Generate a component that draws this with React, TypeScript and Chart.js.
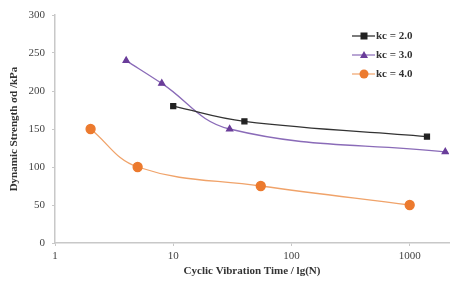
import React, { useEffect, useRef } from "react";
import { Chart, registerables } from "chart.js";

Chart.register(...registerables);

const seriesLabels = ["kc = 2.0", "kc = 3.0", "kc = 4.0"];
const kc2X = [10, 40, 1400];
const kc2Y = [180, 160, 140];
const kc3X = [4, 8, 30, 2000];
const kc3Y = [240, 210, 150, 120];
const kc4X = [2, 5, 55, 1000];
const kc4Y = [150, 100, 75, 50];
const xTickValues = [1, 10, 100, 1000];
const yTickValues = [0, 50, 100, 150, 200, 250, 300];

const lineColors = ["#333333", "#8a6bb8", "#f0a36a"];
const markerColors = ["#222222", "#6a3d9a", "#ec7a2e"];
const markerStyles = ["rect", "triangle", "circle"];
const markerRadii = [3.5, 3.5, 4.5];

const FONT = "'Liberation Serif', 'DejaVu Serif', serif";

const legendPlugin = {
  id: "insideLegend",
  afterDraw(chart: any) {
    const ctx = chart.ctx;
    ctx.save();
    const x0 = 352;
    const rows = [36, 55, 74];
    seriesLabels.forEach((label, i) => {
      const y = rows[i];
      ctx.strokeStyle = lineColors[i] === "#333333" ? "#222" : lineColors[i];
      ctx.lineWidth = 1.2;
      ctx.beginPath();
      ctx.moveTo(x0, y);
      ctx.lineTo(x0 + 23, y);
      ctx.stroke();
      ctx.fillStyle = markerColors[i];
      const mx = x0 + 12;
      if (markerStyles[i] === "rect") {
        ctx.fillRect(mx - 3.5, y - 3.5, 7, 7);
      } else if (markerStyles[i] === "triangle") {
        ctx.beginPath();
        ctx.moveTo(mx, y - 4);
        ctx.lineTo(mx + 4, y + 3);
        ctx.lineTo(mx - 4, y + 3);
        ctx.closePath();
        ctx.fill();
      } else {
        ctx.beginPath();
        ctx.arc(mx, y, 4.5, 0, Math.PI * 2);
        ctx.fill();
      }
      ctx.fillStyle = "#333";
      ctx.font = "bold 11px " + FONT;
      ctx.textBaseline = "middle";
      ctx.textAlign = "left";
      ctx.fillText(label, x0 + 24, y + 0.5);
    });
    ctx.restore();
  },
};

function toPoints(xs: number[], ys: number[]) {
  return xs.map((x, i) => ({ x, y: ys[i] }));
}

export default function App() {
  const ref = useRef<HTMLCanvasElement | null>(null);

  useEffect(() => {
    document.body.style.margin = "0";
    const canvas = ref.current;
    if (!canvas) return;
    const allX = [kc2X, kc3X, kc4X];
    const allY = [kc2Y, kc3Y, kc4Y];
    const chart = new Chart(canvas, {
      type: "line",
      data: {
        datasets: seriesLabels.map((label, i) => ({
          label,
          data: toPoints(allX[i], allY[i]),
          borderColor: lineColors[i],
          backgroundColor: markerColors[i],
          pointBackgroundColor: markerColors[i],
          pointBorderColor: markerColors[i],
          pointStyle: markerStyles[i] as any,
          pointRadius: markerRadii[i],
          borderWidth: 1.3,
          tension: 0.4,
          fill: false,
        })),
      },
      plugins: [legendPlugin],
      options: {
        animation: false,
        responsive: false,
        maintainAspectRatio: false,
        layout: { padding: { left: 2, right: 13, top: 15, bottom: 0 } },
        plugins: {
          legend: { display: false },
          tooltip: { enabled: false },
        },
        scales: {
          x: {
            type: "logarithmic",
            min: 1,
            max: 2150,
            afterBuildTicks: (scale: any) => {
              scale.ticks = xTickValues.map((v) => ({ value: v }));
            },
            afterFit: (scale: any) => {
              scale.height = 43;
            },
            border: { color: "#c8c8c8", width: 1.5 },
            grid: {
              display: true,
              drawOnChartArea: false,
              drawTicks: true,
              tickLength: 3,
              color: "#c8c8c8",
            },
            ticks: {
              autoSkip: false,
              maxRotation: 0,
              padding: 4,
              color: "#444",
              font: { family: FONT, size: 11 },
              callback: (v: any) => String(v),
            },
            title: {
              display: true,
              text: "Cyclic Vibration Time / lg(N)",
              color: "#333",
              font: { family: FONT, size: 11, weight: "bold" },
              padding: { top: 0, bottom: 8 },
            },
          },
          y: {
            type: "linear",
            min: 0,
            max: 300,
            afterBuildTicks: (scale: any) => {
              scale.ticks = yTickValues.map((v) => ({ value: v }));
            },
            afterFit: (scale: any) => {
              scale.width = 53;
            },
            border: { color: "#c8c8c8", width: 1.5 },
            grid: {
              display: true,
              drawOnChartArea: false,
              drawTicks: true,
              tickLength: 3,
              color: "#c8c8c8",
            },
            ticks: {
              padding: 7,
              color: "#444",
              font: { family: FONT, size: 11 },
            },
            title: {
              display: true,
              text: "Dynamic Strength σd /kPa",
              color: "#333",
              font: { family: FONT, size: 11, weight: "bold" },
              padding: { top: 6, bottom: 0 },
            },
          },
        },
      } as any,
    });
    return () => chart.destroy();
  }, []);

  return (
    <div style={{ width: 462, height: 286, position: "relative", background: "#fff" }}>
      <canvas ref={ref} width={462} height={286} style={{ display: "block" }} />
    </div>
  );
}
